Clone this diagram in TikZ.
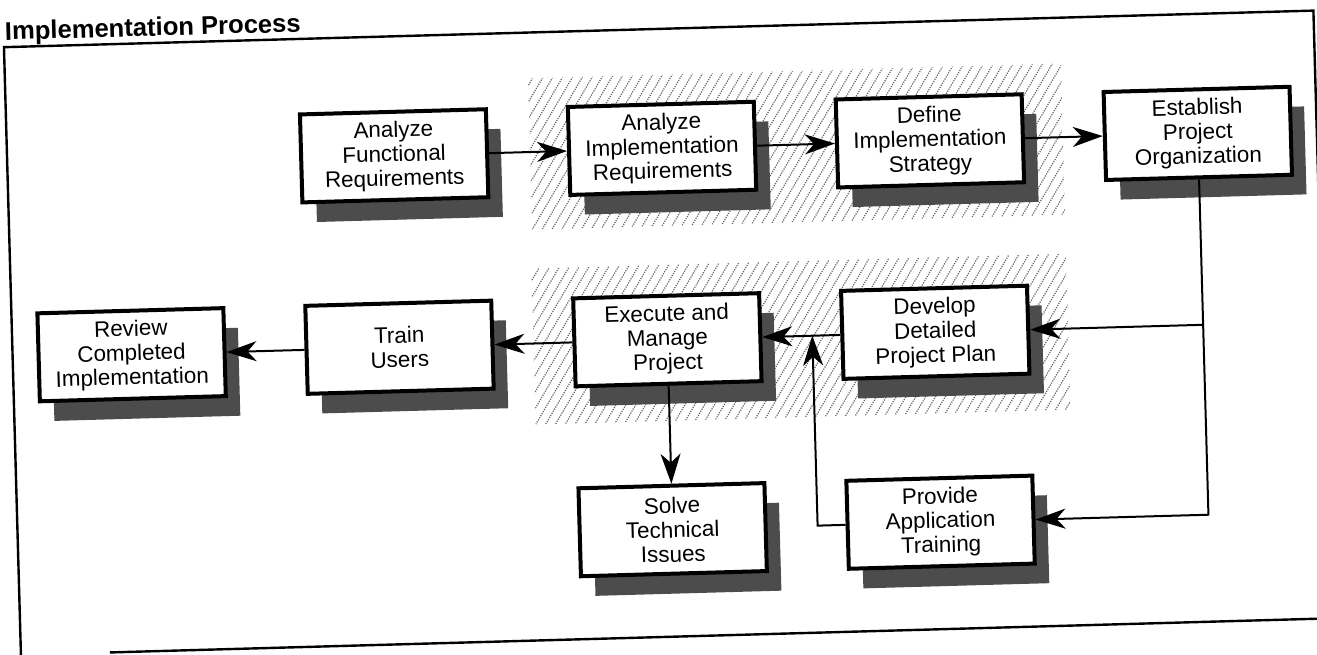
\documentclass[tikz,border=0pt]{standalone}
\usepackage{fontspec}
\setmainfont{Liberation Sans}
\usetikzlibrary{arrows.meta,shadows,calc}

% dotted diagonal hatching inside a rectangle (corners in px units)
\newcommand\hatcharea[4]{%
  \begin{scope}
    \clip (#1,#2) rectangle (#3,#4);
    \pgfmathsetmacro\hstart{#1-110}
    \pgfmathsetmacro\hnext{#1-110+10}
    \foreach \hx in {\hstart,\hnext,...,#3}
      \draw[hatchline] (\hx,#4) -- ++(100,-160);
  \end{scope}}

\begin{document}
\begin{tikzpicture}[x=0.5pt,y=-0.5pt,
  stepbox/.style={draw=black, line width=2pt, fill=white,
    minimum width=93pt, minimum height=44pt, inner sep=0pt, align=center,
    font=\fontsize{11.2pt}{12.2pt}\selectfont,
    drop shadow={shadow xshift=7pt, shadow yshift=-10pt, opacity=1, fill=black!70}},
  flow/.style={line width=1pt, -{Stealth[length=15pt,width=10pt,inset=4.5pt]}},
  link/.style={line width=1pt},
  frameline/.style={line width=1.2pt},
  hatchline/.style={draw=black!60, line width=0.6pt, dash pattern=on 0.6pt off 0.6pt},
  titletext/.style={font=\fontsize{12.8pt}{14pt}\selectfont\bfseries, inner sep=0pt}]

\useasboundingbox (0,0) rectangle (1317,654);
\clip (0,0) rectangle (1317,654);

\begin{scope}[transform canvas={rotate around={1.6:(658.5,327)}}]

  % title and open frame
  \node[titletext, anchor=base west] (title) at (13,22) {Implementation Process};
  \draw[frameline] (1322,262) -- (1322,29) -- (12,29) -- (12,700);
  \draw[frameline] (101,637) -- (1345,637);

  % hatched bands behind the core steps
  \hatcharea{535}{75}{1068}{226}
  \hatcharea{533}{265}{1068}{421}

  % process steps
  \node[stepbox] (afr) at (399,148.5) {Analyze\\Functional\\Requirements};
  \node[stepbox] (air) at (667,148.5) {Analyze\\Implementation\\Requirements};
  \node[stepbox] (dis) at (935,148.5) {Define\\Implementation\\Strategy};
  \node[stepbox] (epo) at (1203,148.5) {Establish\\Project\\Organization};

  \node[stepbox] (rev) at (131,340) {Review\\Completed\\Implementation};
  \node[stepbox] (trn) at (399,340) {Train\\Users};
  \node[stepbox] (exe) at (667,340) {Execute and\\Manage\\Project};
  \node[stepbox] (dev) at (935,340) {Develop\\Detailed\\Project Plan};

  \node[stepbox] (sti) at (667,530) {Solve\\Technical\\Issues};
  \node[stepbox] (pat) at (935,530) {Provide\\Application\\Training};

  % connectors
  \draw[flow] (afr) -- (air);
  \draw[flow] (air) -- (dis);
  \draw[flow] (dis) -- (epo);

  \coordinate (split) at (epo.south |- dev.east);
  \draw[link] (epo.south) -- (split);
  \draw[flow] (split) -- (dev.east);
  \draw[flow] (split) |- (pat.east);

  \coordinate (merge) at (812,340);
  \draw[flow] (dev.west) -- (exe.east);
  \draw[flow] (pat.west) -| (merge);

  \draw[flow] (exe.south) -- (sti.north);
  \draw[flow] (exe.west) -- (trn.east);
  \draw[flow] (trn.west) -- (rev.east);
\end{scope}
\end{tikzpicture}
\end{document}
